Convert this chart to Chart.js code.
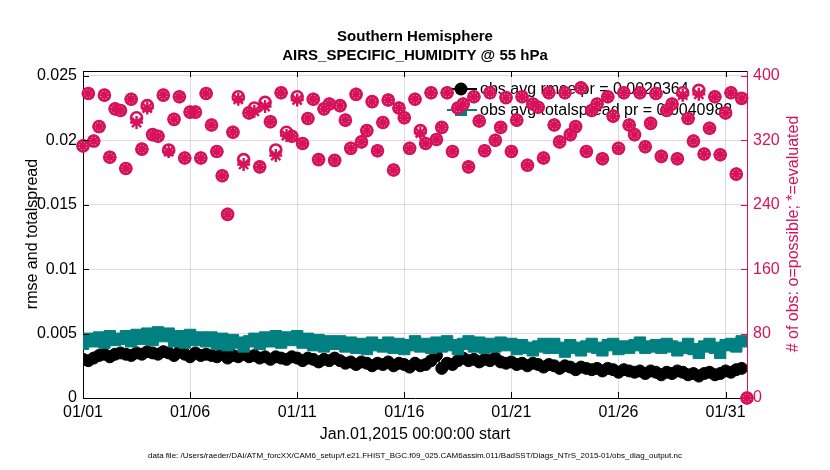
<!DOCTYPE html>
<html>
<head>
<meta charset="utf-8">
<script src="https://cdn.jsdelivr.net/npm/chart.js@4.4.1/dist/chart.umd.min.js"></script>
<style>
  html, body { margin:0; padding:0; background:#fff; }
  #wrap { width:830px; height:470px; }
</style>
</head>
<body>
<div id="wrap"><canvas id="c" width="830" height="470"></canvas></div>
<script>
/* AIRS specific humidity @ 55 hPa — rmse / totalspread + obs counts, 6-hourly bins */

var BIN_DAYS = 0.25; // 6-hour bins, day offset from Jan.01 00Z

// rmse (left axis)
var rmse = [
  0.0030,0.0029,0.0031,0.0033,0.0034,0.0032,0.0034,0.0035,
  0.0034,0.0033,0.0035,0.0034,0.0036,0.0035,0.0034,0.0036,
  0.0035,0.0033,0.0036,0.0034,0.0032,0.0035,0.0033,0.0034,
  0.0033,0.0032,0.0034,0.0031,0.0033,0.0032,0.0034,0.0032,
  0.0033,0.0031,0.0032,0.0030,0.0032,0.0031,0.0030,0.0032,
  0.0031,0.0029,0.0031,0.0030,0.0028,0.0030,0.0029,0.0031,
  0.0029,0.0027,0.0028,0.0026,0.0028,0.0027,0.0025,0.0027,
  0.0026,0.0028,0.0025,0.0027,0.0026,0.0024,0.0027,0.0025,
  0.0026,0.0029,0.0033,0.0023,0.0027,0.0026,0.0029,0.0031,
  0.0029,0.0030,0.0028,0.0030,0.0029,0.0031,0.0028,0.0027,
  0.0028,0.0026,0.0027,0.0025,0.0027,0.0026,0.0024,0.0026,
  0.0025,0.0023,0.0025,0.0024,0.0022,0.0024,0.0023,0.0022,
  0.0023,0.0021,0.0023,0.0022,0.0020,0.0022,0.0021,0.0020,
  0.0021,0.0019,0.0021,0.0020,0.0018,0.0020,0.0019,0.0021,
  0.0020,0.0018,0.0019,0.0017,0.0019,0.0020,0.0018,0.0019,
  0.0021,0.0020,0.0022,0.0023, null
];

// totalspread (left axis)
var spread = [
  0.0042,0.0046,0.0044,0.0047,0.0043,0.0048,0.0045,0.0046,
  0.0048,0.0044,0.0049,0.0046,0.0050,0.0045,0.0051,0.0048,
  0.0050,0.0044,0.0048,0.0043,0.0049,0.0045,0.0047,0.0044,
  0.0047,0.0042,0.0046,0.0041,0.0045,0.0043,0.0040,0.0044,
  0.0046,0.0042,0.0047,0.0044,0.0048,0.0043,0.0047,0.0045,
  0.0048,0.0043,0.0046,0.0041,0.0045,0.0040,0.0044,0.0042,
  0.0044,0.0040,0.0043,0.0039,0.0042,0.0038,0.0043,0.0041,
  0.0040,0.0043,0.0039,0.0042,0.0038,0.0041,0.0044,0.0040,
  0.0042,0.0039,0.0043,0.0040,0.0044,0.0041,0.0038,0.0042,
  0.0044,0.0040,0.0043,0.0039,0.0042,0.0040,0.0043,0.0041,
  0.0042,0.0038,0.0041,0.0039,0.0037,0.0040,0.0042,0.0039,
  0.0042,0.0039,0.0036,0.0041,0.0039,0.0037,0.0040,0.0042,
  0.0039,0.0037,0.0041,0.0042,0.0038,0.0040,0.0039,0.0041,
  0.0043,0.0039,0.0040,0.0041,0.0039,0.0042,0.0040,0.0037,
  0.0039,0.0042,0.0038,0.0035,0.0040,0.0042,0.0039,0.0035,
  0.0041,0.0042,0.0040,0.0044, null
];

// # of obs possible (right axis)
var nPossible = [
  313,378,319,337,376,299,359,357,285,371,
  348,309,363,327,325,376,308,346,374,298,
  355,355,298,378,339,306,276,228,330,374,
  296,354,360,287,367,343,308,379,330,325,
  374,316,347,371,296,359,365,295,363,345,
  310,377,318,332,368,307,342,370,283,360,
  348,310,371,332,316,379,321,336,379,306,
  360,365,287,374,344,307,379,320,336,373,
  306,345,374,289,365,361,298,379,339,318,
  379,327,337,385,306,357,365,297,374,350,
  310,379,339,327,379,312,341,378,300,357,
  365,297,379,347,319,382,303,335,374,302,
  354,379,278,372, 0
];

// # of obs evaluated (right axis)
var nEvaluated = [
  313,378,319,337,376,299,359,357,285,371,
  342,309,360,327,325,376,306,346,374,298,
  355,355,298,378,339,306,276,228,330,371,
  290,354,356,287,362,343,301,379,326,325,
  370,316,347,371,296,359,365,295,363,345,
  310,377,318,332,368,307,342,370,283,360,
  348,310,371,329,316,379,321,336,379,306,
  360,365,287,374,344,307,379,320,336,373,
  306,345,374,289,365,361,298,379,339,318,
  379,327,337,385,306,357,365,297,374,350,
  310,379,339,327,379,312,341,378,300,357,
  365,297,376,347,319,377,303,335,374,302,
  354,379,278,372, 0
];

var xTickDays   = [0, 5, 10, 15, 20, 25, 30];
var xTickLabels = ['01/01','01/06','01/11','01/16','01/21','01/26','01/31'];
var leftTicks   = [0, 0.005, 0.01, 0.015, 0.02, 0.025];
var leftLabels  = ['0','0.005','0.01','0.015','0.02','0.025'];
var rightTicks  = [0, 80, 160, 240, 320, 400];

var legendLabels = ['obs avg rmse pr = 0.0029364', 'obs avg totalspread pr = 0.0040982'];

var PINK = '#D6125A';
var TEAL = '#008080';
var FONT = "'Liberation Sans', Arial, Helvetica, sans-serif";

function toXY(arr){
  return arr.map(function(v, i){ return {x: i*BIN_DAYS, y: v}; });
}

// titles, axis labels, inward ticks and legend (legend sits under the markers)
var decorPlugin = {
  id: 'decor',
  beforeDatasetsDraw: function(chart){
    var ctx = chart.ctx;
    ctx.save();
    ctx.font = '16px ' + FONT;
    ctx.textBaseline = 'middle';
    // rmse entry
    ctx.strokeStyle = '#000'; ctx.lineWidth = 2;
    ctx.beginPath(); ctx.moveTo(449, 89); ctx.lineTo(477, 89); ctx.stroke();
    ctx.beginPath(); ctx.arc(461, 89, 6.5, 0, Math.PI*2); ctx.fillStyle = '#000'; ctx.fill();
    ctx.fillText(legendLabels[0], 480, 90);
    // spread entry
    ctx.strokeStyle = TEAL;
    ctx.beginPath(); ctx.moveTo(447, 110); ctx.lineTo(477, 110); ctx.stroke();
    ctx.fillStyle = TEAL; ctx.fillRect(455, 104, 12, 12);
    ctx.fillStyle = '#000';
    ctx.fillText(legendLabels[1], 480, 111);
    ctx.restore();
  },
  afterDraw: function(chart){
    var ctx = chart.ctx, a = chart.chartArea;
    var xs = chart.scales.x, ys = chart.scales.y, y1 = chart.scales.y1;
    ctx.save();
    // top border
    ctx.strokeStyle = '#000'; ctx.lineWidth = 1;
    ctx.beginPath(); ctx.moveTo(a.left, a.top + 0.5); ctx.lineTo(a.right, a.top + 0.5); ctx.stroke();
    // inward ticks
    ctx.beginPath();
    xTickDays.forEach(function(d){
      var px = Math.round(xs.getPixelForValue(d)) + 0.5;
      ctx.moveTo(px, a.bottom); ctx.lineTo(px, a.bottom - 6);
      ctx.moveTo(px, a.top); ctx.lineTo(px, a.top + 6);
    });
    leftTicks.forEach(function(v){
      var py = Math.round(ys.getPixelForValue(v)) + 0.5;
      ctx.moveTo(a.left, py); ctx.lineTo(a.left + 6, py);
    });
    ctx.stroke();
    ctx.strokeStyle = PINK;
    ctx.beginPath();
    rightTicks.forEach(function(v){
      var py = Math.round(y1.getPixelForValue(v)) + 0.5;
      ctx.moveTo(a.right, py); ctx.lineTo(a.right - 6, py);
    });
    ctx.stroke();

    // titles
    ctx.fillStyle = '#000';
    ctx.textAlign = 'center';
    ctx.textBaseline = 'middle';
    ctx.font = 'bold 15px ' + FONT;
    ctx.fillText('Southern Hemisphere', 415, 37);
    ctx.fillText('AIRS_SPECIFIC_HUMIDITY @ 55 hPa', 415, 56);
    ctx.font = '16px ' + FONT;
    ctx.fillText('Jan.01,2015 00:00:00 start', 415, 435);
    ctx.font = '8px ' + FONT;
    ctx.fillText('data file: /Users/raeder/DAI/ATM_forcXX/CAM6_setup/f.e21.FHIST_BGC.f09_025.CAM6assim.011/BadSST/Diags_NTrS_2015-01/obs_diag_output.nc', 415, 456);

    ctx.font = '16px ' + FONT;
    ctx.save();
    ctx.translate(33, 234); ctx.rotate(-Math.PI/2);
    ctx.fillText('rmse and totalspread', 0, 0);
    ctx.restore();
    ctx.save();
    ctx.fillStyle = PINK;
    ctx.translate(794, 234); ctx.rotate(-Math.PI/2);
    ctx.fillText('# of obs: o=possible; *=evaluated', 0, 0);
    ctx.restore();
    ctx.restore();
  }
};

new Chart(document.getElementById('c'), {
  type: 'line',
  data: {
    datasets: [
      {
        label: 'evaluated', data: toXY(nEvaluated), yAxisID: 'y1', order: 0,
        showLine: false, clip: false,
        pointStyle: 'star', pointRadius: 6.5, pointBorderWidth: 2.4,
        pointBorderColor: PINK, pointBackgroundColor: PINK
      },
      {
        label: 'possible', data: toXY(nPossible), yAxisID: 'y1', order: 1,
        showLine: false, clip: false,
        pointStyle: 'circle', pointRadius: 5.5, pointBorderWidth: 2.6,
        pointBorderColor: PINK, pointBackgroundColor: '#fff'
      },
      {
        label: legendLabels[1], data: toXY(spread), yAxisID: 'y', order: 2,
        borderColor: TEAL, borderWidth: 1.5,
        pointStyle: 'rect', pointRadius: 8, pointBorderWidth: 1,
        pointBorderColor: TEAL, pointBackgroundColor: TEAL
      },
      {
        label: legendLabels[0], data: toXY(rmse), yAxisID: 'y', order: 3,
        borderColor: '#000', borderWidth: 1.5,
        pointStyle: 'circle', pointRadius: 6, pointBorderWidth: 1,
        pointBorderColor: '#000', pointBackgroundColor: '#000'
      }
    ]
  },
  options: {
    responsive: false,
    animation: false,
    devicePixelRatio: 1,
    layout: { padding: { top: 71, left: 0, right: 0, bottom: 0 } },
    plugins: { legend: { display: false }, tooltip: { enabled: false }, title: { display: false } },
    scales: {
      x: {
        type: 'linear', min: 0, max: 31,
        afterFit: function(s){ s.height = 72; },
        afterBuildTicks: function(s){ s.ticks = xTickDays.map(function(v){ return {value: v}; }); },
        ticks: {
          padding: 5, color: '#000', maxRotation: 0, autoSkip: false,
          font: { family: FONT, size: 16 },
          callback: function(v, i){ return xTickLabels[i]; }
        },
        grid: { color: '#dcdcdc', drawTicks: false },
        border: { color: '#000', width: 1 }
      },
      y: {
        position: 'left', min: 0, max: 0.02539,
        afterFit: function(s){ s.width = 83; },
        afterBuildTicks: function(s){ s.ticks = leftTicks.map(function(v){ return {value: v}; }); },
        ticks: {
          padding: 6, color: '#000',
          font: { family: FONT, size: 16 },
          callback: function(v, i){ return leftLabels[i]; }
        },
        grid: { display: false, drawTicks: false },
        border: { color: '#000', width: 1 }
      },
      y1: {
        position: 'right', min: 0, max: 406,
        afterFit: function(s){ s.width = 83; },
        afterBuildTicks: function(s){ s.ticks = rightTicks.map(function(v){ return {value: v}; }); },
        ticks: {
          padding: 6, color: PINK,
          font: { family: FONT, size: 16 },
          callback: function(v){ return String(v); }
        },
        grid: { color: 'rgba(214,18,90,0.2)', drawTicks: false },
        border: { color: PINK, width: 1 }
      }
    }
  },
  plugins: [decorPlugin]
});
</script>
</body>
</html>
